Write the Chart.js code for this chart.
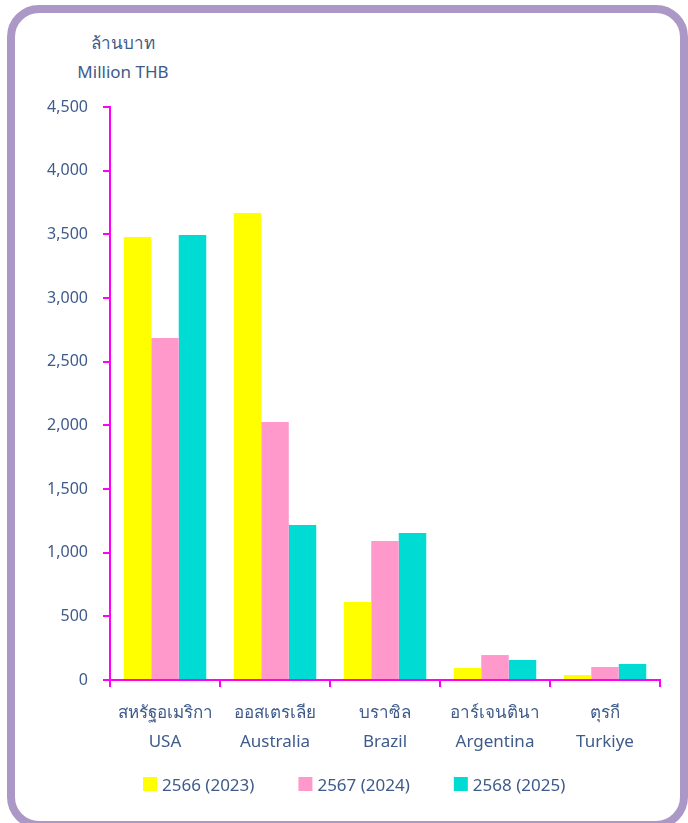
<!DOCTYPE html>
<html><head><meta charset="utf-8">
<script src="https://cdn.jsdelivr.net/npm/chart.js@4.4.0/dist/chart.umd.min.js"></script>
<style>
html,body{margin:0;padding:0;background:#fff;}
#wrap{position:relative;width:688px;height:823px;overflow:hidden;}
#frame{position:absolute;left:7px;top:5px;width:681px;height:824px;box-sizing:border-box;border:8px solid #ab98c6;border-radius:32px;}
#cv{position:absolute;left:0;top:0;}
.ytitle{position:absolute;font-family:"Noto Sans","Open Sans",sans-serif;color:#3e5b8a;font-size:17px;text-align:center;width:140px;}
</style></head>
<body><div id="wrap"><div id="frame"></div>
<div class="ytitle" style="left:53px;top:29px;">ล้านบาท</div>
<div class="ytitle" style="left:53px;top:60px;">Million THB</div>
<canvas id="cv" width="688" height="823"></canvas></div>
<script>
const categoriesTH = ['สหรัฐอเมริกา','ออสเตรเลีย','บราซิล','อาร์เจนตินา','ตุรกี'];
const categoriesEN = ['USA','Australia','Brazil','Argentina','Turkiye'];
const seriesNames = ['2566 (2023)','2567 (2024)','2568 (2025)'];
const values2566 = [3480, 3668, 613, 94, 39];
const values2567 = [2686, 2026, 1092, 196, 102];
const values2568 = [3495, 1217, 1154, 157, 126];
const colors = ['#ffff00','#ff99cc','#00dcd4'];
const textColor = '#3e5b8a';
const axisColor = '#ff00ff';
const FONT = '"Noto Sans","Open Sans",sans-serif';

const legendPlugin = {
  id:'customLegend',
  afterDraw(chart){
    const ctx = chart.ctx;
    ctx.save();
    ctx.font = '17px ' + FONT;
    ctx.textBaseline = 'middle';
    ctx.textAlign = 'left';
    let x = 143;
    const yMid = 786;
    chart.data.datasets.forEach((ds) => {
      ctx.fillStyle = ds.backgroundColor;
      ctx.fillRect(x, 777, 14, 14);
      ctx.fillStyle = textColor;
      ctx.fillText(ds.label, x + 19, yMid);
      x += 19 + ctx.measureText(ds.label).width + 44;
    });
    ctx.restore();
  }
};

const labels = categoriesTH.map((t,i)=>[t, categoriesEN[i]]);
new Chart(document.getElementById('cv'), {
  type:'bar',
  data:{labels, datasets:[
    {label:seriesNames[0], data:values2566, backgroundColor:colors[0]},
    {label:seriesNames[1], data:values2567, backgroundColor:colors[1]},
    {label:seriesNames[2], data:values2568, backgroundColor:colors[2]}
  ]},
  plugins:[legendPlugin],
  options:{
    responsive:false, animation:false,
    datasets:{bar:{categoryPercentage:0.75, barPercentage:1}},
    layout:{padding:{left:0,right:28,top:107,bottom:19}},
    plugins:{
      tooltip:{enabled:false},
      legend:{display:false}
    },
    scales:{
      x:{
        grid:{display:true, drawOnChartArea:false, drawTicks:true, tickLength:7, color:axisColor, lineWidth:2},
        border:{display:true, color:axisColor, width:2},
        ticks:{color:textColor, font:{family:FONT,size:17, lineHeight:1.74}, padding:11, maxRotation:0, autoSkip:false},
        afterFit:(s)=>{s.height=124;}
      },
      y:{
        min:0, max:4500,
        grid:{display:true, drawOnChartArea:false, drawTicks:true, tickLength:7, color:axisColor, lineWidth:2},
        border:{display:true, color:axisColor, width:2},
        ticks:{stepSize:500, color:textColor, font:{family:FONT,size:16}, padding:15,
          callback:(v)=>v.toLocaleString('en-US')},
        afterFit:(s)=>{s.width=110;}
      }
    }
  }
});
</script></body></html>
